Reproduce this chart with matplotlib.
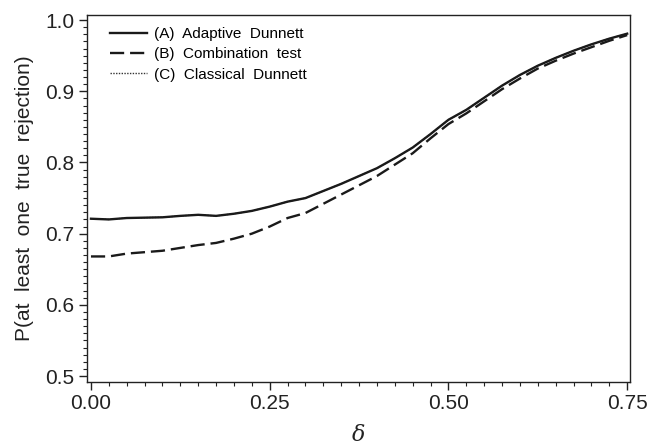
import numpy as np
import matplotlib.pyplot as plt
from matplotlib.ticker import MultipleLocator

plt.rcParams['font.family'] = ['Liberation Sans', 'DejaVu Sans']
plt.rcParams['mathtext.fontset'] = 'dejavuserif'

delta = [0.000, 0.025, 0.050, 0.075, 0.100, 0.125, 0.150, 0.175, 0.200, 0.225,
         0.250, 0.275, 0.300, 0.325, 0.350, 0.375, 0.400, 0.425, 0.450, 0.475,
         0.500, 0.525, 0.550, 0.575, 0.600, 0.625, 0.650, 0.675, 0.700, 0.725,
         0.750]

# (A) Adaptive Dunnett
adaptive = [0.721, 0.720, 0.722, 0.7225, 0.723, 0.725, 0.7265, 0.725, 0.728, 0.732,
            0.738, 0.745, 0.750, 0.760, 0.770, 0.781, 0.792, 0.806, 0.821, 0.840,
            0.860, 0.874, 0.891, 0.908, 0.923, 0.936, 0.947, 0.957, 0.966, 0.974,
            0.981]
# (B) Combination test
combination = [0.668, 0.668, 0.672, 0.674, 0.676, 0.680, 0.684, 0.687, 0.693, 0.700,
               0.710, 0.722, 0.729, 0.742, 0.755, 0.768, 0.781, 0.797, 0.813, 0.834,
               0.854, 0.869, 0.886, 0.903, 0.918, 0.932, 0.943, 0.953, 0.962, 0.971,
               0.979]
# (C) Classical Dunnett (almost on top of A)
classical = [0.721, 0.720, 0.722, 0.7225, 0.723, 0.725, 0.7265, 0.725, 0.728, 0.732,
             0.738, 0.745, 0.750, 0.760, 0.770, 0.781, 0.792, 0.806, 0.821, 0.840,
             0.860, 0.874, 0.891, 0.908, 0.923, 0.936, 0.947, 0.957, 0.966, 0.974,
             0.981]

xticks = [0.00, 0.25, 0.50, 0.75]
xticklabels = ['0.00', '0.25', '0.50', '0.75']
yticks = [0.5, 0.6, 0.7, 0.8, 0.9, 1.0]
yticklabels = ['0.5', '0.6', '0.7', '0.8', '0.9', '1.0']

fig = plt.figure(figsize=(6.49, 4.46), dpi=100)
ax = fig.add_axes([0.134, 0.1435, 0.837, 0.8225])

ax.plot(delta, classical, color='#333333', lw=1.0, ls=(0, (1, 1)), label='(C)  Classical  Dunnett', zorder=2)
ax.plot(delta, combination, color='#1a1a1a', lw=1.7, ls=(0, (6, 2.5)), label='(B)  Combination  test', zorder=3)
ax.plot(delta, adaptive, color='#1a1a1a', lw=1.7, ls='-', label='(A)  Adaptive  Dunnett', zorder=4)

ax.set_xlim(-0.0056, 0.7542)
ax.set_ylim(0.4916, 1.007)
ax.set_xticks(xticks)
ax.set_xticklabels(xticklabels)
ax.set_yticks(yticks)
ax.set_yticklabels(yticklabels)
ax.xaxis.set_minor_locator(MultipleLocator(0.025))
ax.yaxis.set_minor_locator(MultipleLocator(0.01))
ax.tick_params(which='major', length=6, width=1, labelsize=15, colors='#222222', pad=3)
ax.tick_params(which='minor', length=3, width=0.8, colors='#222222')
for s in ax.spines.values():
    s.set_color('#222222')
    s.set_linewidth(1.0)

ax.set_ylabel('P(at  least  one  true  rejection)', fontsize=15, color='#222222', labelpad=8)
ax.set_xlabel(r'$\delta$', fontsize=16, color='#222222', labelpad=8)

h, l = ax.get_legend_handles_labels()
leg = ax.legend(h[::-1], l[::-1], loc='upper left', frameon=False, fontsize=11,
                handlelength=2.4, handletextpad=0.5, labelspacing=0.4,
                borderaxespad=0.4, bbox_to_anchor=(0.02, 1.0))

fig.savefig('out.png', dpi=100)
